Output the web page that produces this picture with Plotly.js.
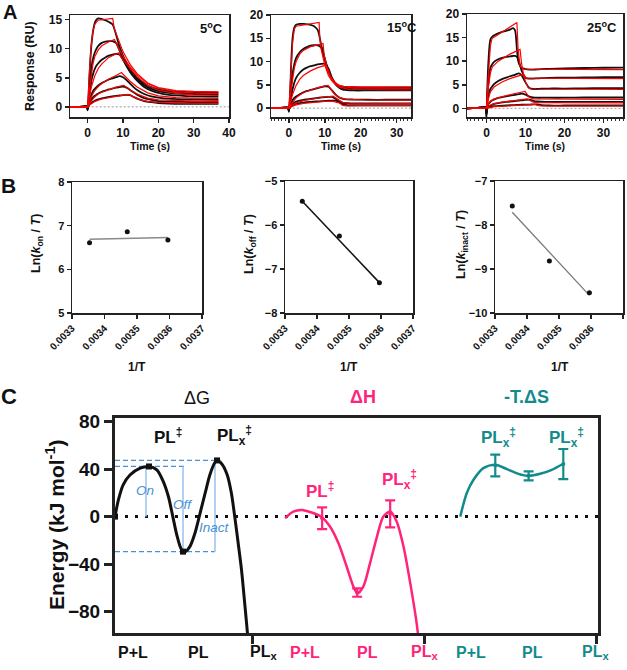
<!DOCTYPE html>
<html><head><meta charset="utf-8">
<script src="https://cdn.plot.ly/plotly-3.0.1.min.js"></script>
<style>html,body{margin:0;padding:0;background:#fff}#chart{width:627px;height:670px}</style>
</head><body><div id="chart"></div>
<script>
// ===== Panel A: sensorgrams, time (s) vs response (RU) =====
// 5 C : measured (black) on shared time grid
const a5t  = [-5,-1,-0.3,0,0.4,0.8,1.2,1.6,2,2.5,3,4,5,6,7,8,9,10,11,12,13,14,16,18,20,23,27,32,37];
const a5d1 = [0,0.05,0.1,-0.6,4.0,8.5,11.5,13.3,14.4,15.0,15.2,15.1,14.9,14.6,14.2,12.5,10.4,8.8,7.5,6.5,5.7,5.0,4.0,3.4,3.0,2.7,2.55,2.5,2.45];
const a5d2 = [0,0.05,0.1,-0.5,2.5,5.3,7.3,8.5,9.3,10.0,10.5,11.0,11.2,11.3,11.3,11.0,9.7,8.3,7.1,6.1,5.3,4.7,3.7,3.1,2.7,2.4,2.25,2.2,2.15];
const a5d3 = [0,0.05,0.1,-0.4,1.5,3.4,4.9,5.8,6.5,7.1,7.5,8.1,8.5,8.8,9.0,9.1,9.0,8.1,7.0,6.0,5.2,4.5,3.4,2.8,2.4,2.05,1.9,1.8,1.75];
const a5d4 = [0,0.05,0.1,-0.3,0.8,1.6,2.3,2.8,3.1,3.4,3.7,4.1,4.4,4.7,4.9,5.1,5.3,5.1,4.6,4.0,3.4,2.9,2.2,1.8,1.6,1.4,1.3,1.25,1.2];
const a5d5 = [0,0.05,0.1,-0.2,0.5,1.0,1.4,1.7,1.9,2.1,2.3,2.6,2.8,3.0,3.15,3.3,3.4,3.5,3.3,2.9,2.5,2.1,1.5,1.2,1.0,0.9,0.85,0.8,0.8];
const a5d6 = [0,0.05,0.1,-0.1,0.3,0.55,0.75,0.9,1.05,1.2,1.3,1.45,1.6,1.7,1.8,1.9,1.95,2.0,2.05,2.0,1.7,1.4,1.0,0.8,0.65,0.55,0.5,0.5,0.5];
// 5 C : fits (red)
const a5f1t = [-5,0,0.5,1,1.5,2,3,5,7.1,7.5,8.5,10,12,14,17,20,25,30,37];
const a5f1  = [0,0,6.0,10.5,13.0,14.2,14.9,15.1,15.2,13.5,11.8,9.5,7.3,5.7,4.1,3.3,2.8,2.65,2.6];
const a5f2t = [-5,0,0.5,1,1.5,2,3,4,5,6,7.6,8,9,10,12,14,17,20,25,30,37];
const a5f2  = [0,0,3.0,5.6,7.4,8.6,9.8,10.5,10.9,11.2,11.6,11.0,9.8,8.7,6.9,5.5,4.0,3.2,2.6,2.4,2.3];
const a5f3t = [-5,0,0.5,1,2,3,4,5,6,7,8.8,9.2,10,12,14,17,20,25,30,37];
const a5f3  = [0,0,1.8,3.3,5.3,6.6,7.4,8.0,8.5,8.8,9.3,8.8,8.1,6.6,5.2,3.7,2.9,2.3,2.05,1.95];
const a5f4t = [-5,0,0.5,1,2,3,4,6,8,9.6,10,11,12,14,17,20,25,30,37];
const a5f4  = [0,0,0.9,1.7,2.8,3.5,4.0,4.8,5.4,5.9,5.6,5.0,4.4,3.4,2.4,1.9,1.6,1.5,1.45];
const a5f5t = [-5,0,0.5,1,2,3,4,6,8,10.2,10.6,12,14,17,20,25,30,37];
const a5f5  = [0,0,0.5,1.0,1.7,2.2,2.5,3.0,3.4,3.7,3.5,2.9,2.2,1.5,1.2,1.05,1.0,1.0];
const a5f6t = [-5,0,0.5,1,2,3,4,6,8,10,11.4,11.8,13,15,17,20,25,30,37];
const a5f6  = [0,0,0.3,0.55,0.9,1.15,1.35,1.6,1.85,2.0,2.15,2.05,1.7,1.2,0.95,0.75,0.65,0.6,0.6];

// 15 C
const a15t  = [-5,-1,-0.3,0,0.3,0.6,1,1.5,2,3,4,5,6,7,8,9,10,11,12,13,14,15,16,18,22,27,34];
const a15d1 = [0,0.1,0.1,-0.8,3,9,15,17.3,17.9,18.1,18.1,18.0,17.9,17.6,16.8,13.5,10.5,8.0,6.3,5.3,4.8,4.6,4.5,4.45,4.4,4.4,4.4];
const a15d2 = [0,0.1,0.1,-0.6,2,4.5,7.3,9.5,10.8,12.0,12.7,13.1,13.4,13.5,13.5,13.0,10.5,8.0,6.3,5.2,4.6,4.3,4.2,4.1,4.1,4.1,4.1];
const a15d3 = [0,0.1,0.1,-0.5,1.2,2.5,4.0,5.5,6.5,7.6,8.3,8.7,9.0,9.2,9.4,9.5,9.5,8.5,6.5,5.1,4.4,4.0,3.9,3.8,3.8,3.8,3.8];
const a15d4 = [0,0.1,0.1,-0.3,0.5,1.1,1.7,2.2,2.5,3.0,3.4,3.7,3.9,4.1,4.3,4.5,4.7,4.6,3.8,2.9,2.3,2.0,1.9,1.85,1.8,1.8,1.8];
const a15d5 = [0,0.1,0.1,-0.2,0.3,0.6,0.9,1.2,1.4,1.6,1.8,1.9,2.0,2.1,2.2,2.3,2.35,2.4,2.4,2.0,1.5,1.15,1.05,1.0,1.0,1.0,1.0];
const a15d6 = [0,0.1,0.1,-0.1,0.2,0.4,0.6,0.8,0.95,1.1,1.2,1.3,1.35,1.4,1.45,1.5,1.55,1.6,1.6,1.6,1.3,0.85,0.65,0.6,0.6,0.6,0.6];
const a15f1t = [-5,0,0.3,0.6,1,1.5,2,8.4,8.6,9,10,11,12,13,15,20,34];
const a15f1  = [0,0,4,9,14,17,17.6,18.4,15,12.5,9.2,7.0,5.8,5.1,4.7,4.6,4.6];
const a15f2t = [-5,0,0.5,1,1.5,2,3,4,6,8,9.5,9.8,10.5,11.5,12.5,14,17,34];
const a15f2  = [0,0,3.5,6.5,8.6,10.0,11.6,12.4,13.2,13.6,13.9,11.5,9.0,7.0,5.8,4.8,4.4,4.3];
const a15f3t = [-5,0,0.5,1,2,3,4,6,8,10.3,10.6,11.5,12.5,14,17,34];
const a15f3  = [0,0,1.5,2.9,4.9,6.2,7.0,8.0,8.7,9.25,8.3,6.7,5.5,4.5,4.0,3.9];
const a15f4t = [-5,0,0.5,1,2,3,4,6,8,10.9,11.3,12.5,14,16,20,34];
const a15f4  = [0,0,0.7,1.3,2.2,2.8,3.3,3.9,4.4,4.9,4.4,3.2,2.3,1.9,1.8,1.75];
const a15f5t = [-5,0,1,2,4,6,8,10,12.3,12.7,14,15,17,34];
const a15f5  = [0,0,0.7,1.1,1.6,1.9,2.2,2.4,2.6,2.4,1.6,1.2,1.05,1.0];
const a15f6t = [-5,0,1,2,4,6,8,10,12,14,15,16,20,34];
const a15f6  = [0,0,0.4,0.7,1.0,1.2,1.35,1.45,1.5,1.1,0.6,0.5,0.55,0.55];

// 25 C
const a25t  = [-5,-1,-0.3,0,0.2,0.5,1,1.5,2,3,4,5,6,6.8,7.3,7.8,8.3,9,10,11,12,13,14,16,20,25,30,35];
const a25d1 = [0,0.2,0.3,-2.0,4,10,14.6,15.2,15.5,15.9,16.2,16.4,16.7,17.0,16.6,12.5,9.5,8.6,8.3,8.2,8.2,8.25,8.3,8.35,8.45,8.55,8.6,8.65];
const a25d2 = [0,0.2,0.3,-1.5,2.5,5.5,8.6,9.4,9.9,10.4,10.7,10.9,11.0,11.1,11.1,10.9,10.0,8.0,6.5,6.3,6.3,6.35,6.4,6.45,6.5,6.55,6.6,6.6];
const a25d3 = [0,0.2,0.3,-1.2,1.2,2.8,4.1,4.7,5.2,5.8,6.2,6.5,6.8,7.0,7.1,7.3,7.4,7.0,5.5,4.3,4.1,4.1,4.15,4.2,4.2,4.25,4.3,4.3];
const a25d4 = [0,0.2,0.3,-1.0,0.4,0.9,1.4,1.7,1.9,2.2,2.4,2.55,2.7,2.8,2.85,2.95,3.0,3.1,2.9,2.5,2.3,2.25,2.25,2.25,2.25,2.3,2.3,2.3];
const a25d5 = [0,0.2,0.3,-0.8,0.2,0.4,0.6,0.8,0.95,1.1,1.25,1.35,1.45,1.5,1.55,1.6,1.65,1.7,1.8,1.85,1.6,1.45,1.4,1.35,1.35,1.35,1.35,1.35];
const a25d6 = [0,0.2,0.3,-0.6,0.1,0.2,0.3,0.4,0.45,0.5,0.55,0.6,0.65,0.7,0.7,0.72,0.74,0.76,0.78,0.8,0.82,0.85,0.7,0.6,0.6,0.6,0.6,0.6];
const a25f1t = [-5,0,0.3,0.7,1.0,1.4,7.8,8.1,8.6,9.5,35];
const a25f1  = [0,0,5,10.5,13.3,14.8,18.2,12.5,9.0,8.3,8.2];
const a25f2t = [-5,0,0.5,1,1.5,3,6,8.6,9,9.5,10.2,35];
const a25f2  = [0,0,4.5,7.5,8.8,10.0,11.5,12.5,9.5,7.2,6.4,6.3];
const a25f3t = [-5,0,0.5,1,2,4,6,9.5,10,10.7,11.5,35];
const a25f3  = [0,0,2,3.5,4.6,5.6,6.3,7.2,5.6,4.4,4.1,4.0];
const a25f4t = [-5,0,0.5,1,2,4,7,9.9,10.3,11,12,35];
const a25f4  = [0,0,0.9,1.5,2.0,2.5,3.1,3.6,3.1,2.3,2.0,1.9];
const a25f5t = [-5,0,1,2,4,7,10.5,11,12,13,35];
const a25f5  = [0,0,0.7,1.0,1.3,1.6,2.0,1.7,1.3,1.2,1.15];
const a25f6t = [-5,0,2,5,9,12.5,13,14,35];
const a25f6  = [0,0,0.35,0.55,0.7,0.85,0.6,0.5,0.5];

// ===== Panel B: Eyring plots =====
const invT      = [0.003354, 0.003470, 0.003595];
const lnKon     = [6.61, 6.86, 6.67];
const lnKoff    = [-5.46, -6.25, -7.31];
const lnKinact  = [-7.57, -8.82, -9.54];
const fitX      = [0.003354, 0.003595];
const fitKon    = [6.69, 6.73];
const fitKoff   = [-5.46, -7.31];
const fitKinact = [-7.71, -9.60];
const bTicks    = [0.0033, 0.0034, 0.0035, 0.0036, 0.0037];
const bTickText = ['0.0033','0.0034','0.0035','0.0036','0.0037'];

// ===== Panel C: energy landscape (kJ/mol) =====
const gX = [0, 1, 2, 3];                 // P+L, PL‡, PL, PLx‡
const dG = [0, 42.2, -29.5, 47.3];
const hX = [6.09, 7.12, 8.09];           // PL‡, PL, PLx‡
const dH = [-1.4, -64, 2.3];
const dHerr = [9.1, 3.5, 11.3];
const sX = [11.18, 12.16, 13.18];        // PLx‡, PL, PLx‡
const dS = [43, 34.3, 44.2];
const dSerr = [9.1, 3.8, 12.7];
// smooth guide curves
const gCurveX = [0,0.1,0.24,0.44,0.74,1,1.23,1.42,1.57,1.7,1.83,1.96,2.06,2.2,2.35,2.5,2.65,2.79,2.94,3.02,3.15,3.3,3.42,3.52,3.62,3.72,3.82,3.9,3.97];
const gCurveY = [0,14,26.7,35,40.8,42.2,39.4,29.5,16.9,0,-16.9,-28,-29.5,-25.3,-14,2.8,19.7,35.2,45.6,47.3,44,35,20,0,-22,-45,-75,-100,-125];
const hCurveX = [5.0,5.24,5.49,5.78,6.08,6.32,6.57,6.81,7.01,7.13,7.3,7.5,7.7,7.89,8.09,8.28,8.48,8.68,8.87,8.95];
const hCurveY = [-1.4,4.2,5.6,3.4,-0.5,-8.4,-22.5,-42,-59,-64.6,-59,-39,-17,0,4.2,-4.2,-25,-56,-90,-110];
const sCurveX = [10.15,10.34,10.54,10.83,11.18,11.52,11.86,12.16,12.5,12.84,13.18];
const sCurveY = [0,19.7,31,40.8,43.6,40,36,34.3,36,39.4,44.5];
const cTicks = [4.05, 9.1, 14.15];
const stateNames = ['P+L', 'PL', 'PL<sub>x</sub>'];

// ---------------------------------------------------------------
const W = 627, H = 670;
const px = v => v / W, py = v => 1 - v / H;
const F = 'Liberation Sans, Arial, sans-serif';
const PINK = '#ff2479', TEAL = '#138b8b', BLUE = '#4a8fd6', LBLUE = '#a9cdf0';

const traces = [];
function ln(xa, ya, x, y, color, width, shape) {
  traces.push({type:'scatter', mode:'lines', x:x, y:y, xaxis:xa, yaxis:ya,
    line:{color:color, width:width, shape:shape||'linear', smoothing:0.8}, hoverinfo:'skip'});
}
// Panel A traces: measured (black) then fits (red)
const blackSets = [
  {t:a5t,  d:[a5d1,a5d2,a5d3,a5d4,a5d5,a5d6],       xa:'x',  ya:'y'},
  {t:a15t, d:[a15d1,a15d2,a15d3,a15d4,a15d5,a15d6], xa:'x2', ya:'y2'},
  {t:a25t, d:[a25d1,a25d2,a25d3,a25d4,a25d5,a25d6], xa:'x3', ya:'y3'}
];
blackSets.forEach(s => s.d.forEach(d => ln(s.xa, s.ya, s.t, d, '#111', 1.8, 'spline')));
const redSets = [
  {f:[[a5f1t,a5f1],[a5f2t,a5f2],[a5f3t,a5f3],[a5f4t,a5f4],[a5f5t,a5f5],[a5f6t,a5f6]], xa:'x', ya:'y'},
  {f:[[a15f1t,a15f1],[a15f2t,a15f2],[a15f3t,a15f3],[a15f4t,a15f4],[a15f5t,a15f5],[a15f6t,a15f6]], xa:'x2', ya:'y2'},
  {f:[[a25f1t,a25f1],[a25f2t,a25f2],[a25f3t,a25f3],[a25f4t,a25f4],[a25f5t,a25f5],[a25f6t,a25f6]], xa:'x3', ya:'y3'}
];
redSets.forEach(s => s.f.forEach(f => ln(s.xa, s.ya, f[0], f[1], '#ff0000', 1.2, 'linear')));

// Panel B traces
ln('x4','y4', fitX, fitKon, '#8a8a8a', 1.5);
ln('x5','y5', fitX, fitKoff, '#111', 1.5);
ln('x6','y6', fitX, fitKinact, '#7a7a7a', 1.3);
const bSets = [{y:lnKon, xa:'x4', ya:'y4'}, {y:lnKoff, xa:'x5', ya:'y5'}, {y:lnKinact, xa:'x6', ya:'y6'}];
bSets.forEach(s => traces.push({type:'scatter', mode:'markers', x:invT, y:s.y, xaxis:s.xa, yaxis:s.ya,
  marker:{color:'#111', size:5}, hoverinfo:'skip'}));

// Panel C traces
ln('x7','y7', gCurveX, gCurveY, '#111', 3, 'spline');
ln('x7','y7', hCurveX, hCurveY, PINK, 2.5, 'spline');
ln('x7','y7', sCurveX, sCurveY, TEAL, 2.5, 'spline');
traces.push({type:'scatter', mode:'markers', x:gX, y:dG, xaxis:'x7', yaxis:'y7',
  marker:{symbol:'square', size:6, color:'#111'}, hoverinfo:'skip'});
traces.push({type:'scatter', mode:'markers', x:hX, y:dH, xaxis:'x7', yaxis:'y7',
  marker:{size:4, color:PINK}, error_y:{type:'data', array:dHerr, color:PINK, thickness:2.2, width:5}, hoverinfo:'skip'});
traces.push({type:'scatter', mode:'markers', x:sX, y:dS, xaxis:'x7', yaxis:'y7',
  marker:{size:4, color:TEAL}, error_y:{type:'data', array:dSerr, color:TEAL, thickness:2.2, width:5}, hoverinfo:'skip'});

// axes
function ax(dom, range, extra) {
  return Object.assign({domain:dom, range:range, showline:true, mirror:true, linecolor:'#222', linewidth:1.5,
    ticks:'outside', ticklen:4, tickwidth:1.5, tickcolor:'#222', showgrid:false, zeroline:false, fixedrange:true,
    tickfont:{family:F, size:12, color:'#111', weight:'bold'}}, extra || {});
}
const minorA = {dtick:1, ticks:'outside', ticklen:2.5, tickwidth:1, tickcolor:'#333', showgrid:false};
const bx = {tickvals:bTicks, ticktext:bTickText, tickangle:-45, tickfont:{family:F, size:10, color:'#111', weight:'bold'}};
const byf = {tickfont:{family:F, size:11, color:'#111', weight:'bold'}};

const layout = {
  width:W, height:H, margin:{l:0,r:0,t:0,b:0}, showlegend:false,
  paper_bgcolor:'#fff', plot_bgcolor:'#fff',
  xaxis:  ax([px(70),px(229)], [-5,40], {anchor:'y', tickvals:[0,10,20,30,40]}),
  yaxis:  ax([py(117.3),py(15)], [-1.8,15.8], {anchor:'x', tickvals:[0,5,10,15]}),
  xaxis2: ax([px(271),px(411)], [-5,34], {anchor:'y2', tickvals:[0,10,20,30], minor:minorA}),
  yaxis2: ax([py(117),py(15)], [-1.9,20], {anchor:'x2', tickvals:[0,5,10,15,20]}),
  xaxis3: ax([px(467),px(623)], [-5,35], {anchor:'y3', tickvals:[0,10,20,30], minor:minorA}),
  yaxis3: ax([py(117.3),py(14)], [-1.9,20], {anchor:'x3', tickvals:[0,5,10,15,20]}),
  xaxis4: ax([px(72),px(202)], [0.0033,0.0037], Object.assign({anchor:'y4'}, bx)),
  yaxis4: ax([py(313),py(182)], [5,8], Object.assign({anchor:'x4', tickvals:[5,6,7,8]}, byf)),
  xaxis5: ax([px(285),px(413)], [0.0033,0.0037], Object.assign({anchor:'y5'}, bx)),
  yaxis5: ax([py(313),py(181)], [-8,-5], Object.assign({anchor:'x5', tickvals:[-8,-7,-6,-5]}, byf)),
  xaxis6: ax([px(495),px(623)], [0.0033,0.0037], Object.assign({anchor:'y6'}, bx)),
  yaxis6: ax([py(313),py(181)], [-10,-7], Object.assign({anchor:'x6', tickvals:[-10,-9,-8,-7]}, byf)),
  xaxis7: ax([px(115),px(598)], [0,14.2], {anchor:'y7', tickvals:cTicks, showticklabels:false,
          linewidth:3, ticklen:8, tickwidth:3}),
  yaxis7: ax([py(633),py(418)], [-98,83], {anchor:'x7', tickvals:[-80,-40,0,40,80], linewidth:3, ticklen:8, tickwidth:3,
          tickfont:{family:F, size:19, color:'#111', weight:'bold'}}),
  shapes: [], annotations: []
};

// reference lines
const zeroA = [{xa:'x', ya:'y', end:40}, {xa:'x2', ya:'y2', end:34}, {xa:'x3', ya:'y3', end:35}];
zeroA.forEach(s => layout.shapes.push({type:'line', xref:s.xa, yref:s.ya,
  x0:0, x1:s.end, y0:0, y1:0, line:{color:'#9a9a9a', width:1, dash:'2px,2px'}, layer:'below'}));
layout.shapes.push({type:'line', xref:'x7', yref:'y7', x0:0, x1:14.2, y0:0, y1:0,
  line:{color:'#111', width:3, dash:'3px,7px'}, layer:'below'});
// dG guides
const dsh = {color:BLUE, width:1.2, dash:'5px,3px'};
layout.shapes.push({type:'line', xref:'x7', yref:'y7', x0:0, x1:gX[2]+0.06, y0:dG[1], y1:dG[1], line:dsh, layer:'below'});
layout.shapes.push({type:'line', xref:'x7', yref:'y7', x0:0, x1:gX[3], y0:dG[3], y1:dG[3], line:dsh, layer:'below'});
layout.shapes.push({type:'line', xref:'x7', yref:'y7', x0:0, x1:gX[3]-0.06, y0:dG[2], y1:dG[2], line:dsh, layer:'below'});
const vl = {color:LBLUE, width:1.8};
layout.shapes.push({type:'line', xref:'x7', yref:'y7', x0:gX[1]-0.09, x1:gX[1]-0.09, y0:dG[1], y1:dG[0], line:vl, layer:'below'});
layout.shapes.push({type:'line', xref:'x7', yref:'y7', x0:gX[2], x1:gX[2], y0:dG[1], y1:dG[2], line:vl, layer:'below'});
layout.shapes.push({type:'line', xref:'x7', yref:'y7', x0:gX[3]-0.06, x1:gX[3]-0.06, y0:dG[3], y1:dG[2], line:vl, layer:'below'});

function ann(text, x, y, size, color, extra) {
  layout.annotations.push(Object.assign({text:text, xref:'paper', yref:'paper', x:px(x), y:py(y),
    xanchor:'center', yanchor:'middle', showarrow:false,
    font:{family:F, size:size, color:color || '#111', weight:'bold'}}, extra || {}));
}
// panel letters
ann('A', 9.5, 12, 20); ann('B', 8, 185, 21); ann('C', 9, 397, 22);
// panel A labels
ann('Response (RU)', 30, 66, 12.5, '#111', {textangle:-90});
ann('Time (s)', 150, 146, 10.5); ann('Time (s)', 341, 146, 10.5); ann('Time (s)', 545, 146, 10.5);
ann('5<sup>o</sup>C', 211, 28, 13); ann('15<sup>o</sup>C', 402, 27, 13); ann('25<sup>o</sup>C', 602, 27, 13);
// panel B labels
ann('Ln(<i>k</i><sub>on</sub> / <i>T</i>)', 37, 244, 12.5, '#111', {textangle:-90});
ann('Ln(<i>k</i><sub>off</sub> / <i>T</i>)', 250, 244, 12.5, '#111', {textangle:-90});
ann('Ln(<i>k</i><sub>inact</sub> / <i>T</i>)', 462, 245, 12.5, '#111', {textangle:-90});
ann('1/T', 137, 367, 12); ann('1/T', 349, 367, 12); ann('1/T', 560, 367, 12);
// panel C labels
ann('\u0394G', 197, 398, 18, '#111', {font:{family:F, size:18, color:'#111'}});
ann('\u0394H', 363, 397, 18, PINK);
ann('-T.\u0394S', 526, 397, 18, TEAL);
ann('Energy (kJ mol<sup>-1</sup>)', 55, 525, 21, '#111', {textangle:-90});
ann('PL<sup>\u2021</sup>', 168, 436, 17); ann('PL<sub>x</sub><sup>\u2021</sup>', 234, 436, 17);
ann('PL<sup>\u2021</sup>', 320, 490, 17, PINK); ann('PL<sub>x</sub><sup>\u2021</sup>', 399, 479, 17, PINK);
ann('PL<sub>x</sub><sup>\u2021</sup>', 498, 437, 17, TEAL); ann('PL<sub>x</sub><sup>\u2021</sup>', 566, 437, 17, TEAL);
const it = c => ({font:{family:F, size:13.5, color:c, style:'italic'}});
ann('On', 145, 490, 13.5, BLUE, it(BLUE)); ann('Off', 182, 504, 13.5, BLUE, it(BLUE)); ann('Inact', 215, 527, 13.5, BLUE, it(BLUE));
// state category labels below axis
const catPos = [{p:[133,198,263], c:'#111'}, {p:[305,367,425], c:PINK}, {p:[471,532,595], c:TEAL}];
catPos.forEach(g => stateNames.forEach((n, i) => ann(n, g.p[i], 652, 16, g.c)));

Plotly.newPlot('chart', traces, layout, {staticPlot:true, displayModeBar:false});
</script></body></html>
